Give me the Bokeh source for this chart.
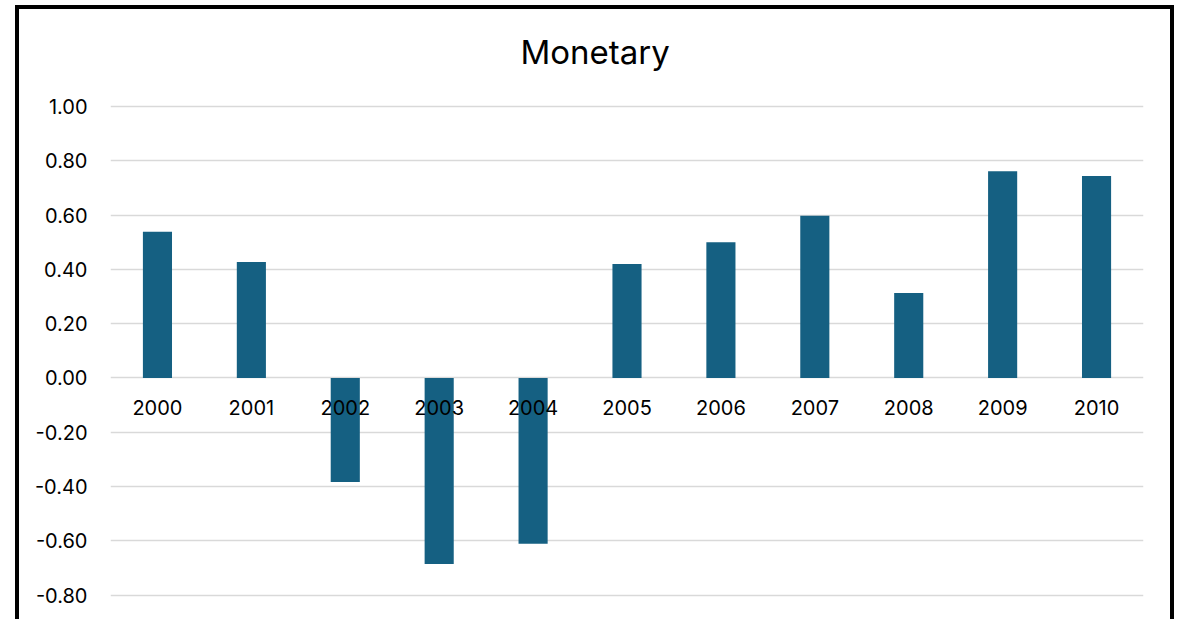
from bokeh.plotting import figure
from bokeh.models import FixedTicker, NumeralTickFormatter, InlineStyleSheet
from bokeh.embed import file_html
from bokeh.resources import INLINE

years = ["2000", "2001", "2002", "2003", "2004", "2005", "2006", "2007", "2008", "2009", "2010"]
monetary = [0.538, 0.427, -0.383, -0.685, -0.611, 0.420, 0.500, 0.597, 0.313, 0.761, 0.744]
y_ticks = [-0.8, -0.6, -0.4, -0.2, 0.0, 0.2, 0.4, 0.6, 0.8, 1.0]

FONT = "Inter"

p = figure(x_range=years, y_range=(-0.875, 1.007), width=1159, height=614,
           output_backend="svg", toolbar_location=None,
           min_border_left=91, min_border_right=35, min_border_top=103, min_border_bottom=0)

# chart border: top, left and right edges (bottom lies outside the window)
p.styles = {"border-left": "4px solid black", "border-right": "4px solid black",
            "border-top": "4px solid black", "margin-left": "15px", "margin-top": "5px",
            "overflow": "hidden"}
p.stylesheets = [InlineStyleSheet(css=":host > *:not(style):not(link) { transform: translateY(-8px) !important; }")]

p.vbar(x=years, top=monetary, bottom=0, width=0.31, fill_color="#156082", line_color=None)

p.title.text = "Monetary"
p.title.align = "left"
p.title.vertical_align = "top"
p.title.offset = 410
p.title.standoff = 61
p.title.text_font = FONT
p.title.text_font_size = "33px"
p.title.text_font_style = "normal"
p.title.text_color = "#000000"

p.outline_line_color = None
p.xgrid.grid_line_color = None
p.ygrid.grid_line_color = "#d9d9d9"
p.ygrid.grid_line_width = 1.5
p.ygrid.ticker = FixedTicker(ticks=y_ticks)

p.yaxis.ticker = FixedTicker(ticks=y_ticks)
p.yaxis.formatter = NumeralTickFormatter(format="0.00")
p.yaxis.axis_line_color = None
p.yaxis.major_tick_line_color = None
p.yaxis.minor_tick_line_color = None
p.yaxis.major_tick_out = 0
p.yaxis.minor_tick_out = 0
p.yaxis.major_label_standoff = 23
p.yaxis.major_label_text_font = FONT
p.yaxis.major_label_text_font_size = "20px"
p.yaxis.major_label_text_color = "#000000"

p.xaxis.fixed_location = 0
p.xaxis.axis_line_color = None
p.xaxis.major_tick_line_color = None
p.xaxis.major_tick_out = 0
p.xaxis.major_label_standoff = 22
p.xaxis.major_label_text_font = FONT
p.xaxis.major_label_text_font_size = "20px"
p.xaxis.major_label_text_color = "#000000"

open("out.html", "w").write(file_html(p, INLINE))
